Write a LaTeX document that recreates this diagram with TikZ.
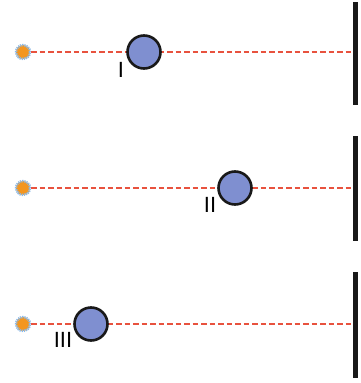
\documentclass[tikz,border=0pt]{standalone}
\usepackage{fontspec}
\setmainfont{Liberation Sans}
\usetikzlibrary{shapes.geometric}
\definecolor{ballblue}{RGB}{127,143,208}
\definecolor{rayred}{RGB}{232,82,62}
\definecolor{lamporange}{RGB}{243,150,32}
\definecolor{glowblue}{RGB}{140,185,230}

\begin{document}
\begin{tikzpicture}[x=1pt,y=-1pt,
  source/.style={circle,inner sep=0pt,minimum size=14pt,fill=lamporange,
    draw=glowblue,line width=2.4pt,dash pattern=on 1.2pt off 0.9pt},
  ball/.style={circle,inner sep=0pt,minimum size=33pt,fill=ballblue,
    draw=black!90,line width=2.6pt},
  screen/.style={rectangle,inner sep=0pt,minimum width=4.5pt,fill=black!90},
  ray/.style={rayred,line width=2.5pt,dash pattern=on 5.5pt off 3pt},
  tag/.style={inner sep=0pt,font=\fontsize{22}{22}\selectfont}]

\useasboundingbox (0,0) rectangle (360,383);

% first row
\node (srcA) at (23, 52) [source] {};
\node (scrA) at (355.5, 53) [screen,minimum height=103pt] {};
\draw [ray] (srcA) -- (srcA -| scrA.west);
\node (ballA) at (144, 52) [ball] {};
\node (tagA) at (121, 70) [tag] {I};

% second row
\node (srcB) at (23, 188) [source] {};
\node (scrB) at (355.5, 188.5) [screen,minimum height=105pt] {};
\draw [ray] (srcB) -- (srcB -| scrB.west);
\node (ballB) at (235, 188) [ball] {};
\node (tagB) at (210, 205) [tag] {II};

% third row
\node (srcC) at (23, 324) [source] {};
\node (scrC) at (355.5, 324.5) [screen,minimum height=106pt] {};
\draw [ray] (srcC) -- (srcC -| scrC.west);
\node (ballC) at (91, 324) [ball] {};
\node (tagC) at (63, 340) [tag] {III};

\end{tikzpicture}
\end{document}
